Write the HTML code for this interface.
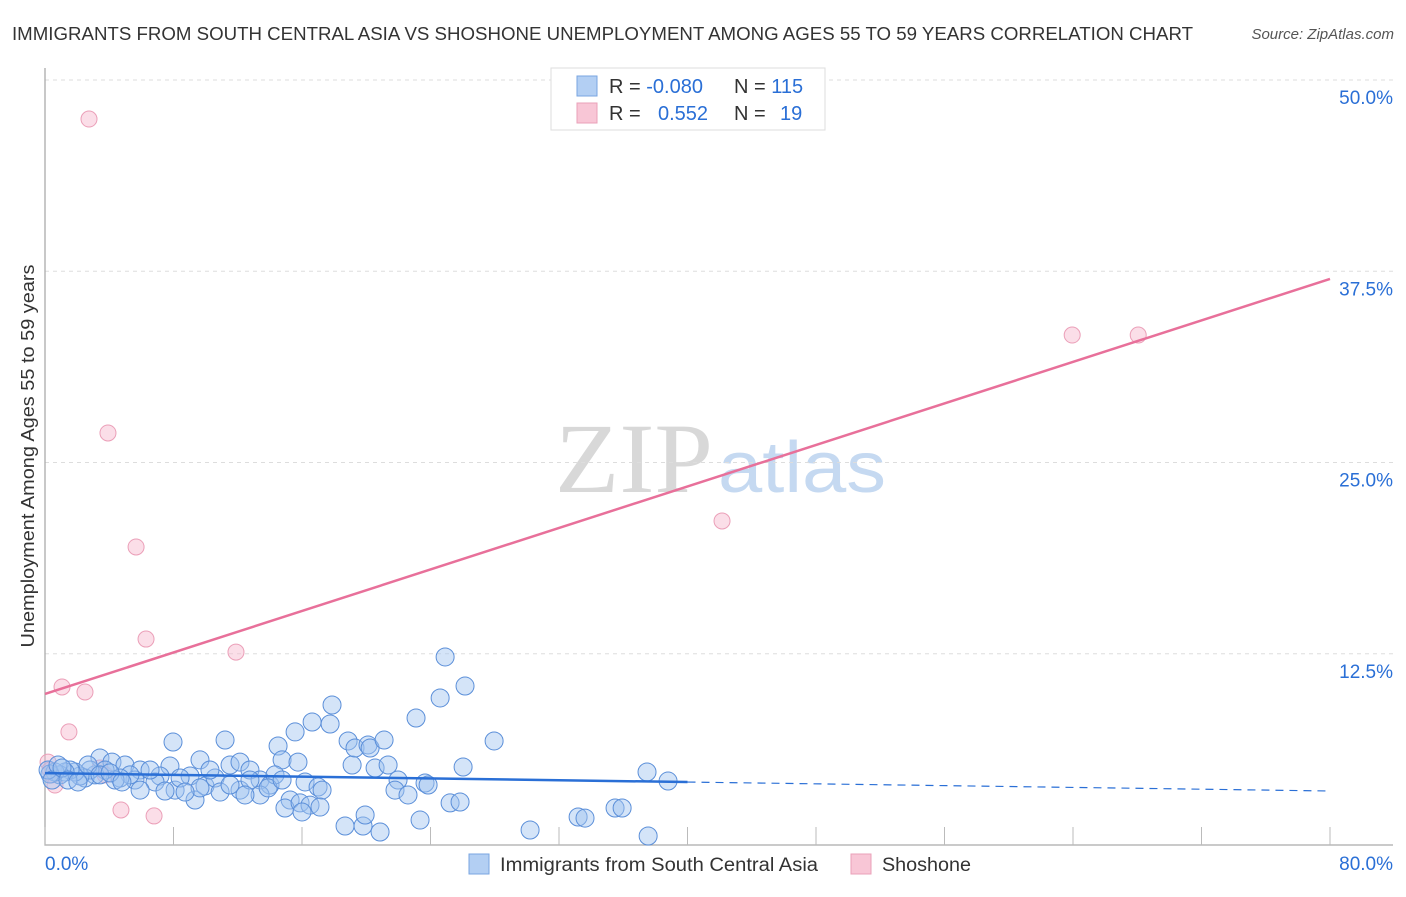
<!DOCTYPE html>
<html><head><meta charset="utf-8"><style>
body{margin:0;background:#fff;font-family:"Liberation Sans",sans-serif;}
</style></head><body>
<svg width="1406" height="892" viewBox="0 0 1406 892" font-family="Liberation Sans, sans-serif">
<text x="12" y="40" font-size="18" fill="#333" textLength="1181" lengthAdjust="spacingAndGlyphs">IMMIGRANTS FROM SOUTH CENTRAL ASIA VS SHOSHONE UNEMPLOYMENT AMONG AGES 55 TO 59 YEARS CORRELATION CHART</text>
<text x="1394" y="39" font-size="15" fill="#555" font-style="italic" text-anchor="end">Source: ZipAtlas.com</text>
<g>
<text x="555" y="492" font-size="100" fill="#d8d8d8" style="font-family:'Liberation Serif',serif" textLength="158" lengthAdjust="spacingAndGlyphs">ZIP</text>
<text x="718" y="492" font-size="72" fill="#c5d9f1" textLength="168" lengthAdjust="spacingAndGlyphs">atlas</text>
</g>
<g id="grid"></g>
<g id="axes"></g>
<g id="marks"></g>
<text transform="translate(34,456) rotate(-90)" font-size="18" fill="#333" text-anchor="middle" textLength="383" lengthAdjust="spacingAndGlyphs">Unemployment Among Ages 55 to 59 years</text>
<g>
<rect x="551" y="68" width="274" height="62" fill="#fff" stroke="#ddd"/>
<rect x="577" y="76" width="20" height="20" fill="#b3cff3" stroke="#7aa6e0"/>
<rect x="577" y="103" width="20" height="20" fill="#f8c6d6" stroke="#eaa0b8"/>
<text x="609" y="93" font-size="20" fill="#333">R = <tspan fill="#2a6fd6">-0.080</tspan></text>
<text x="734" y="93" font-size="20" fill="#333">N = <tspan fill="#2a6fd6">115</tspan></text>
<text x="609" y="120" font-size="20" fill="#333">R = <tspan fill="#2a6fd6" x="658">0.552</tspan></text>
<text x="734" y="120" font-size="20" fill="#333">N = <tspan fill="#2a6fd6" x="780">19</tspan></text>
</g>
<g>
<rect x="469" y="854" width="20" height="20" fill="#b3cff3" stroke="#7aa6e0"/>
<text x="500" y="871" font-size="19" fill="#333" textLength="318" lengthAdjust="spacingAndGlyphs">Immigrants from South Central Asia</text>
<rect x="851" y="854" width="20" height="20" fill="#f8c6d6" stroke="#eaa0b8"/>
<text x="882" y="871" font-size="19" fill="#333" textLength="89" lengthAdjust="spacingAndGlyphs">Shoshone</text>
</g>
</svg>
<script>
const yTicks=[12.5,25,37.5,50];
const yTickLabels=["12.5%","25.0%","37.5%","50.0%"];
const xTicks=[0,8,16,24,32,40,48,56,64,72,80];
const xEndLabels=["0.0%","80.0%"];
const blueX=[3.42,4.17,4.98,5.92,7.78,8.10,9.34,9.65,7.97,11.21,9.96,10.59,11.52,12.14,12.76,13.39,14.01,14.51,14.76,15.57,15.75,16.63,16.19,17.0,17.25,15.26,14.94,15.88,16.5,17.12,17.75,17.87,18.87,19.12,19.3,20.11,20.24,20.55,21.11,21.36,21.98,21.79,22.6,23.1,23.66,23.85,23.35,24.6,25.22,25.84,24.91,26.15,26.03,27.96,18.68,19.8,20.86,19.93,30.2,33.19,33.62,35.49,35.93,37.55,37.48,38.79,13.39,12.14,10.9,12.76,11.52,10.27,9.03,8.41,7.16,6.85,6.54,5.6,5.29,4.67,4.36,3.74,3.11,2.8,2.49,2.18,1.87,1.56,1.25,0.93,0.62,0.31,0.19,0.44,0.81,1.06,1.43,2.05,2.68,3.42,4.05,5.92,7.47,9.65,12.45,14.32,13.89,16.0,14.76,8.72,4.79];
const blueY=[5.69,5.42,5.23,4.90,5.16,3.59,2.94,5.56,6.73,6.86,3.86,4.38,5.23,5.42,4.90,4.25,3.92,6.47,5.56,7.39,5.42,8.04,4.12,3.79,3.59,2.94,2.42,2.75,2.61,2.48,7.91,9.15,6.80,5.23,6.34,6.54,6.34,5.03,6.86,5.23,4.25,3.59,3.27,8.30,4.05,3.92,1.63,9.61,2.75,2.81,12.29,10.39,5.10,6.80,1.24,1.24,0.85,1.96,0.98,1.83,1.76,2.42,2.42,0.59,4.77,4.18,3.27,3.59,3.46,4.25,3.92,4.90,4.51,4.38,4.51,4.12,4.90,4.25,4.58,4.38,4.25,4.90,4.58,4.90,4.38,4.51,4.77,4.90,4.77,4.58,4.77,4.64,4.90,4.25,5.23,5.03,4.25,4.12,5.23,4.58,4.71,3.59,3.53,3.73,3.27,4.58,3.73,2.16,4.25,3.46,4.12];
const pinkX=[2.74,3.92,5.67,6.29,11.89,1.06,2.49,1.49,42.15,63.95,68.06,0.19,0.44,0.62,3.42,4.73,6.79,0.31,3.74];
const pinkY=[47.45,26.93,19.48,13.46,12.61,10.33,10.0,7.39,21.18,33.33,33.33,5.42,4.58,3.92,5.03,2.29,1.90,4.90,4.58];
const blueTrend=[4.7,3.53];   // at x=0 and x=80
const blueSolidEnd=40;
const pinkTrend=[9.87,37.0];  // at x=0 and x=80

const NS="http://www.w3.org/2000/svg";
const X0=45,X1=1330,Y0=845,Y50=80;
const sx=v=>X0+(v/80)*(X1-X0);
const sy=v=>Y0-(v/50)*(Y0-Y50);
function mk(tag,attrs,parent){const e=document.createElementNS(NS,tag);for(const k in attrs)e.setAttribute(k,attrs[k]);parent.appendChild(e);return e;}
const grid=document.getElementById('grid'),axes=document.getElementById('axes'),marks=document.getElementById('marks');
yTicks.forEach((t,i)=>{
 const l=mk('line',{x1:X0,x2:1393,y1:sy(t),y2:sy(t),stroke:'#ddd','stroke-dasharray':'4,4'},grid);
 
 
 const tx=mk('text',{x:1393,y:sy(t)+24,'font-size':19,fill:'#2a6fd6','text-anchor':'end'},axes);
 tx.textContent=yTickLabels[i];
 
 
});
const ax=mk('path',{d:`M${X0},68 V${Y0} H1393`,fill:'none',stroke:'#aaa','stroke-width':1.3},axes);


xTicks.forEach(t=>{
 const l=mk('line',{x1:sx(t),x2:sx(t),y1:Y0,y2:Y0-18,stroke:'#bbb'},axes);
 
 
});
[[0,'start'],[80,'end']].forEach((p,i)=>{
 const tx=mk('text',{x:i?1393:X0,y:870,'font-size':19,fill:'#2a6fd6','text-anchor':p[1]},axes);
 tx.textContent=xEndLabels[i];
 
 
});
pinkX.forEach((x,i)=>{
 const c=mk('circle',{cx:sx(x),cy:sy(pinkY[i]),r:8,fill:'rgba(246,182,203,0.45)',stroke:'#eb9fb8','stroke-width':1},marks);
 
 
});
blueX.forEach((x,i)=>{
 const c=mk('circle',{cx:sx(x),cy:sy(blueY[i]),r:9,fill:'rgba(160,196,240,0.45)',stroke:'#5b8fd9','stroke-width':1},marks);
 
 
});
const by=x=>blueTrend[0]+(blueTrend[1]-blueTrend[0])*x/80;
const b1=mk('line',{x1:sx(0),y1:sy(by(0)),x2:sx(blueSolidEnd),y2:sy(by(blueSolidEnd)),stroke:'#2a6fd6','stroke-width':2.5},marks);


const b2=mk('line',{x1:sx(blueSolidEnd),y1:sy(by(blueSolidEnd)),x2:sx(80),y2:sy(by(80)),stroke:'#2a6fd6','stroke-width':1.2,'stroke-dasharray':'8,6'},marks);


const p=mk('line',{x1:sx(0),y1:sy(pinkTrend[0]),x2:sx(80),y2:sy(pinkTrend[1]),stroke:'#e8709a','stroke-width':2.5},marks);


</script>
</body></html>
